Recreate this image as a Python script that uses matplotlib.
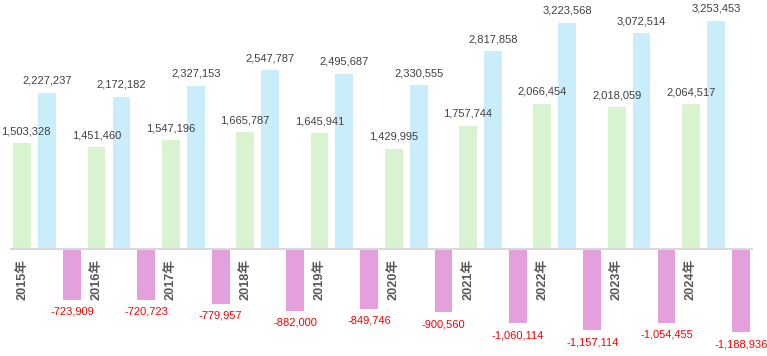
import numpy as np
import matplotlib
matplotlib.use("Agg")
import matplotlib.pyplot as plt

# data
years = ["2015年", "2016年", "2017年", "2018年", "2019年", "2020年", "2021年", "2022年", "2023年", "2024年"]
green_vals = [1503328, 1451460, 1547196, 1665787, 1645941, 1429995, 1757744, 2066454, 2018059, 2064517]
blue_vals = [2227237, 2172182, 2327153, 2547787, 2495687, 2330555, 2817858, 3223568, 3072514, 3253453]
pink_vals = [-723909, -720723, -779957, -882000, -849746, -900560, -1060114, -1157114, -1054455, -1188936]

plt.rcParams['font.family'] = ['Liberation Sans', 'Noto Sans CJK SC', 'DejaVu Sans']

fig = plt.figure(figsize=(7.67, 3.56), dpi=100)
ax = fig.add_axes([10 / 767, 0, 743 / 767, 1])

x = np.arange(len(years))
w = 0.24
off = 0.335

b1 = ax.bar(x - off, green_vals, w, color="#d9f2d0")
b2 = ax.bar(x, blue_vals, w, color="#caedfb")
b3 = ax.bar(x + off, pink_vals, w, color="#e3a0dc")

ax.set_xlim(-0.5, 9.5)
ax.set_ylim(-1.524e6, 3.547e6)

fs = 8.0
for bars, vals in [(b1, green_vals), (b2, blue_vals)]:
    for i, (r, v) in enumerate(zip(bars, vals)):
        # first label sits at the left edge, keep it inside the picture
        dx = 2.5 if (bars is b1 and i == 0) else 0
        ax.annotate(f"{v:,}", (r.get_x() + r.get_width() / 2, v), xytext=(dx, 5),
                    textcoords="offset points", ha="center", va="bottom",
                    fontsize=fs, color="#404040")
for r, v in zip(b3, pink_vals):
    ax.annotate(f"{v:,}", (r.get_x() + r.get_width() / 2, v), xytext=(0, -5),
                textcoords="offset points", ha="center", va="top",
                fontsize=fs, color="#ff0000")

ax.axhline(0, color="#d9d9d9", lw=1.5, zorder=3)

# year labels under the green bars
for xi, y in zip(x, years):
    ax.annotate(y, (xi - off, 0), xytext=(0, -7), textcoords="offset points",
                rotation=90, ha="center", va="top", fontsize=9.2,
                fontweight="bold", color="#595959")

ax.axis("off")
fig.savefig("out.png", dpi=100)
